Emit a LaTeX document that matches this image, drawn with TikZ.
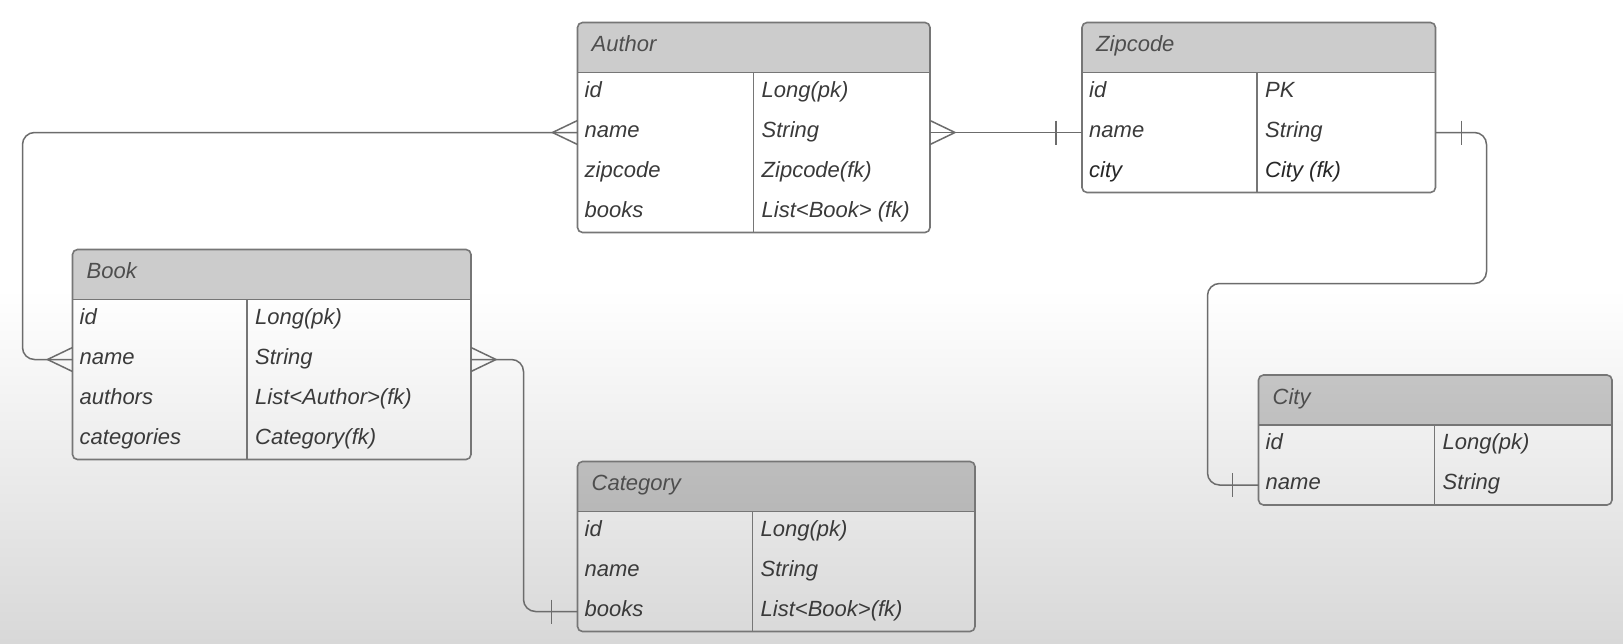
\documentclass[tikz,border=0pt]{standalone}
\usepackage{fontspec}
\setmainfont{Liberation Sans}
\usetikzlibrary{calc}
\definecolor{bgbot}{RGB}{216,216,216}
\definecolor{lncol}{RGB}{108,108,108}
\definecolor{boxcol}{RGB}{118,118,118}
\definecolor{txtcol}{RGB}{58,58,58}
\definecolor{hdrcol}{RGB}{78,78,78}
\tikzset{
  conn/.style={draw=lncol, line width=1.5pt},
  boxline/.style={draw=boxcol, line width=1.6pt},
  hdrfill/.style={fill=black, fill opacity=0.2},
  fldtxt/.style={anchor=base west, inner sep=0pt, text=txtcol, font=\fontsize{22}{26}\selectfont\itshape},
  hdrtxt/.style={anchor=base west, inner sep=0pt, text=hdrcol, font=\fontsize{22}{26}\selectfont\itshape},
}
% #1 name #2 L #3 T #4 R #5 divider #6 n rows #7 title #8 rows
\newcommand\ertable[8]{%
  \pgfmathsetmacro\erB{#3+50+40*#6}%
  \pgfmathsetmacro\erHB{#3+50}%
  \begin{scope}
    \clip[rounded corners=5pt] (#2,#3) rectangle (#4,\erB);
    \fill[hdrfill] (#2,#3) rectangle (#4,\erHB);
  \end{scope}
  \draw[boxline] (#2,\erHB) -- (#4,\erHB);
  \draw[boxline] (#5,\erHB) -- (#5,\erB);
  \draw[boxline, rounded corners=5pt] (#2,#3) rectangle (#4,\erB);
  \node[hdrtxt] (#1-title) at (#2+14,#3+29) {#7};
  \foreach \f/\t [count=\i] in {#8} {
    \pgfmathsetmacro\ery{\erHB+40*\i-20}
    \node[fldtxt] (#1-\i-f) at (#2+7,\ery+4.5) {\f};
    \node[fldtxt] (#1-\i-t) at (#5+8,\ery+4.5) {\t};
    \coordinate (#1-\i-w) at (#2,\ery);
    \coordinate (#1-\i-e) at (#4,\ery);
  }
}
\newcommand\crowL[1]{\draw[conn] ($(#1)+(0,-12)$) -- ($(#1)+(-25,0)$) -- ($(#1)+(0,12)$);}
\newcommand\crowR[1]{\draw[conn] ($(#1)+(0,-12)$) -- ($(#1)+(25,0)$) -- ($(#1)+(0,12)$);}
\newcommand\barL[1]{\draw[conn] ($(#1)+(-26,-12)$) -- ($(#1)+(-26,12)$);}
\newcommand\barR[1]{\draw[conn] ($(#1)+(26,-12)$) -- ($(#1)+(26,12)$);}
\begin{document}
\begin{tikzpicture}[x=1pt,y=-1pt]
\useasboundingbox (0,0) rectangle (1623,643);
\fill[white] (0,0) rectangle (1623,290);
\shade[top color=white, bottom color=bgbot] (0,289.5) rectangle (1623,643);

\ertable{author}{577.5}{22.5}{930}{753.5}{4}{Author}{id/Long(pk), name/String, zipcode/Zipcode(fk), books/List<Book> (fk)}
\ertable{zip}{1082}{22.5}{1435.5}{1257}{3}{Zipcode}{id/PK, name/String, \textcolor{black!85}{city}/\textcolor{black!85}{City (fk)}}
\ertable{book}{72.5}{249.5}{471}{247}{4}{Book}{id/Long(pk), name/String, authors/List<Author>(fk), categories/Category(fk)}
\ertable{city}{1258.5}{375}{1612}{1434.5}{2}{City}{id/Long(pk), name/String}
\ertable{cat}{577.5}{461.5}{975}{752.5}{3}{Category}{id/Long(pk), name/String, books/List<Book>(fk)}

\coordinate (lx) at (22.5,0);
\coordinate (bc) at (523.5,0);
\coordinate (zr) at (1486.5,283.5);
\coordinate (zl) at (1207.5,283.5);

% Author -- Book (many to many)
\draw[conn, rounded corners=12pt] (author-2-w) -- (author-2-w -| lx) -- (lx |- book-2-w) -- (book-2-w);
\crowL{author-2-w}
\crowL{book-2-w}
% Author -- Zipcode
\draw[conn] (author-2-e) -- (zip-2-w);
\crowR{author-2-e}
\barL{zip-2-w}
% Zipcode -- City
\draw[conn, rounded corners=12pt] (zip-2-e) -- (zip-2-e -| zr) -- (zr) -- (zl) -- (zl |- city-2-w) -- (city-2-w);
\barR{zip-2-e}
\barL{city-2-w}
% Book -- Category
\draw[conn, rounded corners=12pt] (book-2-e) -- (book-2-e -| bc) -- (bc |- cat-3-w) -- (cat-3-w);
\crowR{book-2-e}
\barL{cat-3-w}
\end{tikzpicture}
\end{document}
